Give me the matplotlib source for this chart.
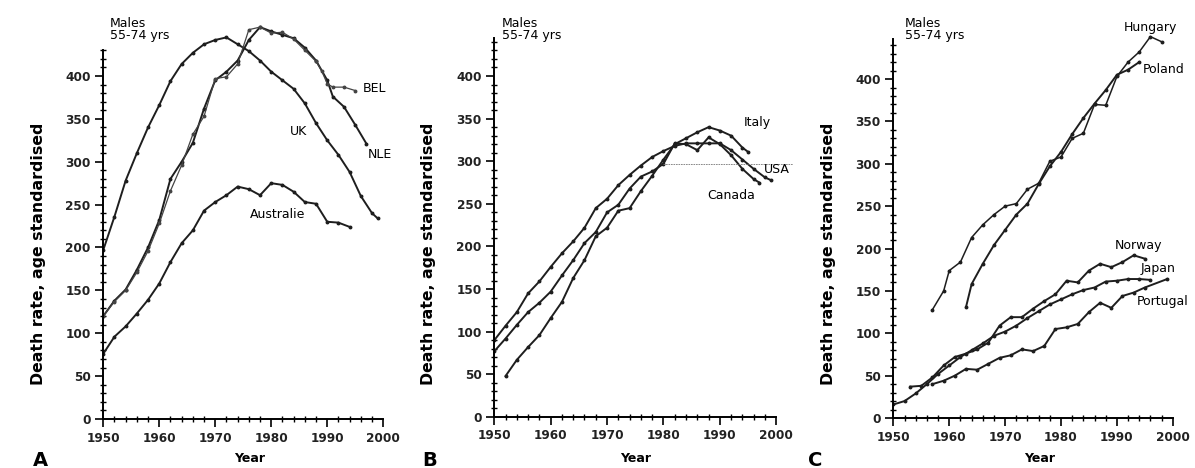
import matplotlib
matplotlib.use("Agg")
import matplotlib.pyplot as plt
from matplotlib.ticker import MultipleLocator

plt.rcParams["font.family"] = ["DejaVu Sans"]

# ---------- data: panel A ----------
uk_years = [1950, 1952, 1954, 1956, 1958, 1960, 1962, 1964, 1966, 1968, 1970, 1972,
            1974, 1976, 1978, 1980, 1982, 1984, 1986, 1988, 1990, 1992, 1994, 1996, 1998, 1999]
uk_vals = [197, 236, 278, 310, 340, 366, 394, 414, 427, 437, 442, 445,
           437, 429, 418, 405, 395, 385, 368, 345, 325, 308, 288, 260, 240, 234]

nle_years = [1950, 1952, 1954, 1956, 1958, 1960, 1962, 1964, 1966, 1968, 1970, 1972,
             1974, 1976, 1978, 1980, 1982, 1984, 1986, 1988, 1990, 1991, 1993, 1995, 1997]
nle_vals = [120, 138, 151, 174, 200, 232, 280, 300, 322, 362, 395, 405,
            418, 442, 457, 452, 448, 444, 433, 418, 395, 376, 364, 343, 321]

bel_years = [1950, 1952, 1954, 1956, 1958, 1960, 1962, 1964, 1966, 1968, 1970, 1972,
             1974, 1976, 1978, 1980, 1982, 1984, 1986, 1988, 1989, 1990, 1991, 1993, 1995]
bel_vals = [120, 137, 150, 171, 196, 228, 266, 296, 332, 353, 397, 399,
            414, 454, 457, 450, 451, 443, 430, 417, 406, 391, 387, 387, 383]

aus_years = [1950, 1952, 1954, 1956, 1958, 1960, 1962, 1964, 1966, 1968, 1970, 1972,
             1974, 1976, 1978, 1980, 1982, 1984, 1986, 1988, 1990, 1992, 1994]
aus_vals = [76, 96, 108, 123, 139, 158, 183, 205, 220, 243, 253, 261,
            271, 268, 261, 275, 273, 265, 253, 251, 230, 229, 224]

# ---------- data: panel B ----------
usa_years = [1950, 1952, 1954, 1956, 1958, 1960, 1962, 1964, 1966, 1968, 1970, 1972,
             1974, 1976, 1978, 1980, 1982, 1984, 1986, 1988, 1990, 1992, 1994, 1996, 1998, 1999]
usa_vals = [90, 107, 123, 145, 159, 176, 192, 206, 222, 245, 256, 272,
            284, 295, 305, 312, 318, 321, 321, 321, 321, 313, 302, 291, 281, 278]

can_years = [1950, 1952, 1954, 1956, 1958, 1960, 1962, 1964, 1966, 1968, 1970, 1972,
             1974, 1976, 1978, 1980, 1982, 1984, 1986, 1988, 1990, 1992, 1994, 1996, 1997]
can_vals = [77, 92, 108, 123, 134, 147, 166, 184, 204, 217, 240, 249,
            268, 282, 288, 297, 321, 320, 313, 328, 320, 307, 291, 279, 275]

ita_years = [1952, 1954, 1956, 1958, 1960, 1962, 1964, 1966, 1968, 1970, 1972,
             1974, 1976, 1978, 1980, 1982, 1984, 1986, 1988, 1990, 1992, 1994, 1995]
ita_vals = [48, 67, 82, 96, 116, 135, 163, 184, 212, 222, 242,
            245, 265, 283, 302, 320, 327, 334, 340, 336, 330, 316, 311]

ref_years = [1980, 2003]
ref_vals = [297, 297]

# ---------- data: panel C ----------
hun_years = [1957, 1959, 1960, 1962, 1964, 1966, 1968, 1970, 1972, 1974, 1976, 1978,
             1980, 1982, 1984, 1986, 1988, 1990, 1992, 1994, 1996, 1998]
hun_vals = [128, 150, 174, 184, 213, 228, 240, 250, 253, 270, 277, 303,
            308, 330, 336, 370, 369, 403, 420, 432, 450, 444]

pol_years = [1963, 1964, 1966, 1968, 1970, 1972, 1974, 1976, 1978, 1980, 1982,
             1984, 1986, 1988, 1990, 1992, 1994]
pol_vals = [131, 158, 182, 204, 222, 240, 253, 276, 297, 314, 335,
            354, 371, 387, 405, 411, 420]

nor_years = [1953, 1955, 1957, 1959, 1961, 1963, 1965, 1967, 1969, 1971, 1973, 1975,
             1977, 1979, 1981, 1983, 1985, 1987, 1989, 1991, 1993, 1995]
nor_vals = [37, 38, 48, 62, 72, 76, 81, 89, 109, 119, 119, 129,
            138, 146, 162, 160, 174, 182, 178, 184, 192, 188]

jap_years = [1950, 1952, 1954, 1956, 1958, 1960, 1962, 1964, 1966, 1968, 1970, 1972,
             1974, 1976, 1978, 1980, 1982, 1984, 1986, 1988, 1990, 1992, 1994, 1996]
jap_vals = [16, 20, 29, 40, 52, 62, 72, 80, 88, 97, 102, 109,
            118, 126, 134, 140, 146, 151, 154, 161, 162, 164, 164, 163]

por_years = [1957, 1959, 1961, 1963, 1965, 1967, 1969, 1971, 1973, 1975, 1977, 1979,
             1981, 1983, 1985, 1987, 1989, 1991, 1993, 1995, 1999]
por_vals = [40, 44, 50, 58, 57, 64, 71, 74, 81, 79, 85, 105,
            107, 111, 125, 136, 130, 144, 148, 154, 164]

LINE = "#1e1e1e"
LABEL_SIZE = 9

fig = plt.figure(figsize=(11.95, 4.68), dpi=100)

# axes placed in figure fractions to follow the scan
axA = fig.add_axes([0.0864, 0.1047, 0.2343, 0.8612])
axB = fig.add_axes([0.4136, 0.1090, 0.2360, 0.8561])
axC = fig.add_axes([0.7476, 0.1068, 0.2338, 0.8511])


def style_axis(ax, ytop):
    ax.set_xlim(1950, 2000)
    ax.set_ylim(0, 470)
    ax.spines["top"].set_visible(False)
    ax.spines["right"].set_visible(False)
    ax.spines["left"].set_bounds(0, ytop)
    ax.spines["bottom"].set_bounds(1950, 2000)
    ax.spines["left"].set_linewidth(1.4)
    ax.spines["bottom"].set_linewidth(1.4)
    ax.xaxis.set_major_locator(MultipleLocator(10))
    ax.xaxis.set_minor_locator(MultipleLocator(2))
    ax.set_yticks(range(0, 401, 50))
    ax.set_yticks([v for v in range(0, ytop + 1, 10) if v % 50], minor=True)
    ax.tick_params(which="major", direction="out", length=6, width=1.2,
                   labelsize=8.7, pad=3)
    ax.tick_params(which="minor", direction="inout", length=4, width=1.0)
    for lab in ax.get_xticklabels() + ax.get_yticklabels():
        lab.set_fontweight("bold")
        lab.set_color("#222222")
    ax.patch.set_alpha(0)


def draw(ax, x, y, lw=1.4, color=LINE):
    ax.plot(x, y, color=color, lw=lw, marker="o", ms=1.8, solid_joinstyle="miter")


# ---- panel A ----
draw(axA, uk_years, uk_vals)
draw(axA, nle_years, nle_vals)
draw(axA, bel_years, bel_vals, lw=0.9, color="#444444")
draw(axA, aus_years, aus_vals)
style_axis(axA, 430)
axA.text(1996.4, 385, "BEL", fontsize=LABEL_SIZE, va="center", ha="left")
axA.text(1983.3, 335, "UK", fontsize=LABEL_SIZE, va="center", ha="left")
axA.text(1997.3, 308, "NLE", fontsize=LABEL_SIZE, va="center", ha="left")
axA.text(1976.2, 238, "Australie", fontsize=LABEL_SIZE, va="center", ha="left")

# ---- panel B ----
draw(axB, usa_years, usa_vals)
draw(axB, can_years, can_vals)
draw(axB, ita_years, ita_vals)
axB.plot(ref_years, ref_vals, color="#777777", lw=0.6, ls=(0, (2, 1)), clip_on=False)
style_axis(axB, 445)
axB.text(1994.2, 345, "Italy", fontsize=LABEL_SIZE, va="center", ha="left")
axB.text(1997.8, 290, "USA", fontsize=LABEL_SIZE, va="center", ha="left")
axB.text(1987.8, 260, "Canada", fontsize=LABEL_SIZE, va="center", ha="left")

# ---- panel C ----
draw(axC, hun_years, hun_vals, lw=1.1)
draw(axC, pol_years, pol_vals)
draw(axC, nor_years, nor_vals)
draw(axC, jap_years, jap_vals)
draw(axC, por_years, por_vals)
style_axis(axC, 447)
axC.text(1991.2, 461, "Hungary", fontsize=LABEL_SIZE, va="center", ha="left")
axC.text(1994.7, 411, "Poland", fontsize=LABEL_SIZE, va="center", ha="left")
axC.text(1989.7, 203, "Norway", fontsize=LABEL_SIZE, va="center", ha="left")
axC.text(1994.2, 176, "Japan", fontsize=LABEL_SIZE, va="center", ha="left")
axC.text(1993.6, 138, "Portugal", fontsize=LABEL_SIZE, va="center", ha="left")

# ---- shared decorations (pixel positions / 1195x468) ----
W, H = 1195.0, 468.0
for x_head, x_lab, x_year in [(110, 39, 250), (502, 428, 636), (905, 828, 1040)]:
    fig.text(x_head / W, 1 - 17 / H, "Males\n55-74 yrs", fontsize=LABEL_SIZE, va="top",
             ha="left", linespacing=0.95)
    fig.text(x_lab / W, 1 - 254 / H, "Death rate, age standardised", rotation=90,
             fontsize=11.3, fontweight="bold", va="center", ha="center")
    fig.text(x_year / W, 1 - 452 / H, "Year", fontsize=9, fontweight="bold",
             va="top", ha="center")

fig.text(33 / W, 1 - 451 / H, "A", fontsize=14, fontweight="bold", va="top", ha="left")
fig.text(422 / W, 1 - 451 / H, "B", fontsize=14, fontweight="bold", va="top", ha="left")
fig.text(808 / W, 1 - 451 / H, "C", fontsize=14, fontweight="bold", va="top", ha="left")

fig.savefig("out.png", dpi=100)
